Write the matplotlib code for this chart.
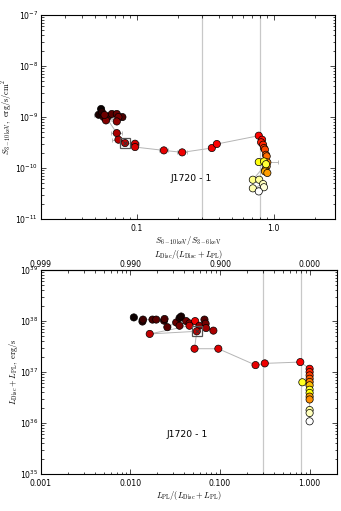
import numpy as np
import matplotlib
matplotlib.use("Agg")
import matplotlib.pyplot as plt
from matplotlib.ticker import FixedLocator, FuncFormatter, LogLocator, NullFormatter

# ---------------- top panel data (hardness-intensity) ----------------
hr_top = [0.0550, 0.0528, 0.0558, 0.0574, 0.0616, 0.0659, 0.0716, 0.0787, 0.0736, 0.0597,
          0.0716, 0.0583, 0.0716, 0.0736, 0.0823, 0.0973, 0.0973, 0.158, 0.215, 0.354,
          0.385, 0.779, 0.824, 0.810, 0.838, 0.850, 0.864, 0.879, 0.890, 0.900,
          0.890, 0.870, 0.864, 0.900, 0.779, 0.850, 0.880, 0.705, 0.785, 0.838,
          0.705, 0.850, 0.779]
flux_top = [1.44e-9, 1.11e-9, 1.25e-9, 1.0e-9, 1.02e-9, 1.15e-9, 1.15e-9, 1.0e-9, 1.0e-9, 0.86e-9,
            0.82e-9, 1.1e-9, 4.85e-10, 3.6e-10, 3.09e-10, 3.0e-10, 2.58e-10, 2.22e-10, 2.03e-10, 2.47e-10,
            2.96e-10, 4.31e-10, 3.6e-10, 3.2e-10, 2.87e-10, 2.47e-10, 2.3e-10, 1.82e-10, 1.7e-10, 1.29e-10,
            1.08e-10, 0.92e-10, 0.86e-10, 0.80e-10, 1.31e-10, 1.35e-10, 1.19e-10, 5.9e-11, 5.9e-11, 4.85e-11,
            4.0e-11, 4.2e-11, 3.48e-11]
hr_err_top = [0, 0.004, 0, 0, 0, 0, 0, 0.004, 0, 0,
              0, 0, 0.007, 0.008, 0, 0.006, 0, 0.012, 0.018, 0,
              0, 0, 0, 0, 0, 0, 0, 0, 0, 0.17,
              0, 0, 0, 0, 0, 0, 0, 0, 0, 0.04,
              0, 0, 0]
time_top = [0.00, 0.03, 0.05, 0.08, 0.10, 0.12, 0.14, 0.10, 0.16, 0.18,
            0.20, 0.15, 0.24, 0.26, 0.28, 0.30, 0.31, 0.33, 0.34, 0.35,
            0.36, 0.37, 0.38, 0.40, 0.42, 0.45, 0.47, 0.50, 0.53, 0.56,
            0.58, 0.60, 0.62, 0.60, 0.76, 0.78, 0.80, 0.88, 0.90, 0.93,
            0.92, 0.96, 1.00]
special_top = 14  # index of highlighted observation

# ---------------- bottom panel data (disc fraction - luminosity) ----------------
plfrac_bot = [0.0109, 0.0136, 0.0138, 0.0176, 0.0194, 0.0237, 0.0240, 0.0258, 0.0324, 0.0353,
              0.0368, 0.0353, 0.0419, 0.0456, 0.0527, 0.0589, 0.0670, 0.0690, 0.0698, 0.0843,
              0.0456, 0.0164, 0.0550, 0.0519, 0.0957, 0.249, 0.316, 0.787,
              1.0, 1.0, 1.0, 1.0, 1.0, 1.0, 0.83, 1.0, 1.0, 1.0, 1.0, 1.0, 1.0, 1.0]
lum_bot = [1.18e38, 0.98e38, 1.07e38, 1.07e38, 1.07e38, 1.02e38, 1.10e38, 0.76e38, 0.94e38, 1.15e38,
           1.23e38, 0.81e38, 1.00e38, 0.90e38, 1.00e38, 0.81e38, 1.07e38, 0.89e38, 0.73e38, 0.65e38,
           0.81e38, 0.56e38, 0.63e38, 2.87e37, 2.87e37, 1.37e37, 1.48e37, 1.57e37,
           1.16e37, 1.0e37, 8.6e36, 7.4e36, 6.4e36, 5.5e36, 6.3e36, 4.5e36, 3.9e36, 3.3e36, 2.9e36,
           1.8e36, 1.57e36, 1.08e36]
time_bot = [0.00, 0.05, 0.08, 0.10, 0.12, 0.08, 0.10, 0.12, 0.14, 0.04,
            0.02, 0.16, 0.15, 0.18, 0.34, 0.20, 0.12, 0.16, 0.22, 0.24,
            0.28, 0.27, 0.28, 0.31, 0.32, 0.33, 0.34, 0.36,
            0.38, 0.42, 0.46, 0.50, 0.55, 0.65, 0.78, 0.78, 0.75, 0.60, 0.58,
            0.90, 0.93, 1.00]
special_bot = 22

vlines = [0.3, 0.8]

plt.rcParams['font.family'] = ['DejaVu Sans']
cmap = plt.get_cmap('hot')

fig = plt.figure(figsize=(3.41, 5.11), dpi=100)
ax1 = fig.add_axes([0.120, 0.5714, 0.862, 0.399])
ax2 = fig.add_axes([0.120, 0.0724, 0.867, 0.399])

lab_kw = dict(fontsize=6.0, math_fontfamily='cm')
tick_fs = 5.6


def style(ax):
    ax.tick_params(which='both', direction='in', labelsize=tick_fs, width=0.5)
    ax.tick_params(which='major', length=3.5)
    ax.tick_params(which='minor', length=1.8)
    ax.tick_params(axis='y', pad=2)
    for s in ax.spines.values():
        s.set_linewidth(0.8)


# ---- top panel ----
ax1.set_xscale('log')
ax1.set_yscale('log')
for v in vlines:
    ax1.axvline(v, color='#c8c8c8', lw=0.9, zorder=0)
ax1.plot(hr_top, flux_top, '-', color='#b5b5b5', lw=0.7, zorder=1)
ax1.errorbar(hr_top, flux_top, xerr=hr_err_top, fmt='none', ecolor='#b0b0b0',
             elinewidth=0.6, capsize=1.2, capthick=0.6, zorder=1)
ax1.scatter(hr_top, flux_top, c=time_top, cmap=cmap, vmin=0, vmax=1, s=27,
            edgecolors='black', linewidths=0.5, zorder=3)
ax1.plot(hr_top[special_top], flux_top[special_top], 's', mfc='none', mec='#555555',
         ms=7.5, mew=0.9, zorder=4)
ax1.plot(hr_top[special_top], flux_top[special_top], 'x', color='#333333',
         ms=3.5, mew=0.7, zorder=5)
ax1.set_xlim(0.02, 2.8)
ax1.set_ylim(1e-11, 1e-7)
ax1.xaxis.set_major_locator(FixedLocator([0.1, 1.0]))
ax1.xaxis.set_major_formatter(FuncFormatter(lambda x, p: '%.1f' % x))
ax1.xaxis.set_minor_locator(LogLocator(base=10, subs=np.arange(2, 10)))
ax1.xaxis.set_minor_formatter(NullFormatter())
ax1.yaxis.set_minor_locator(LogLocator(base=10, subs=np.arange(2, 10), numticks=20))
ax1.yaxis.set_minor_formatter(NullFormatter())
ax1.tick_params(which='both', top=True, right=True)
style(ax1)
ax1.set_xlabel(r'$S_{6-10\,{\rm keV}}/S_{3-6\,{\rm keV}}$', labelpad=1, **lab_kw)
ax1.set_ylabel(r'$S_{3-10\,{\rm keV}},\ {\rm erg/s/cm^2}$', labelpad=0, **lab_kw)
ax1.text(0.25, 10**-10.2, 'J1720 - 1', ha='center', va='center', fontsize=6.7)

# ---- bottom panel ----
ax2.set_xscale('log')
ax2.set_yscale('log')
for v in vlines:
    ax2.axvline(v, color='#c8c8c8', lw=0.9, zorder=0)
ax2.plot(plfrac_bot, lum_bot, '-', color='#b5b5b5', lw=0.7, zorder=1)
ax2.scatter(plfrac_bot, lum_bot, c=time_bot, cmap=cmap, vmin=0, vmax=1, s=27,
            edgecolors='black', linewidths=0.5, zorder=3)
ax2.plot(plfrac_bot[special_bot], lum_bot[special_bot], 's', mfc='none', mec='#555555',
         ms=7.5, mew=0.9, zorder=4)
ax2.plot(plfrac_bot[special_bot], lum_bot[special_bot], 'x', color='#333333',
         ms=3.5, mew=0.7, zorder=5)
ax2.set_xlim(0.001, 2.0)
ax2.set_ylim(1e35, 1e39)
xt = [0.001, 0.01, 0.1, 1.0]
ax2.xaxis.set_major_locator(FixedLocator(xt))
ax2.xaxis.set_major_formatter(FuncFormatter(lambda x, p: '%.3f' % x))
ax2.xaxis.set_minor_locator(LogLocator(base=10, subs=np.arange(2, 10)))
ax2.xaxis.set_minor_formatter(NullFormatter())
ax2.yaxis.set_minor_locator(LogLocator(base=10, subs=np.arange(2, 10), numticks=20))
ax2.yaxis.set_minor_formatter(NullFormatter())
ax2.tick_params(which='both', top=False, right=True)
style(ax2)
sec = ax2.secondary_xaxis('top')
sec.xaxis.set_major_locator(FixedLocator(xt))
sec.xaxis.set_major_formatter(FuncFormatter(lambda x, p: '%.3f' % (1 - x)))
sec.xaxis.set_minor_locator(LogLocator(base=10, subs=np.arange(2, 10)))
sec.xaxis.set_minor_formatter(NullFormatter())
sec.tick_params(which='both', direction='in', labelsize=tick_fs, width=0.5, pad=1)
sec.tick_params(which='major', length=3.5)
sec.tick_params(which='minor', length=1.8)
sec.set_xlabel(r'$L_{\rm Disc}/(L_{\rm Disc}+L_{\rm PL})$', labelpad=2, **lab_kw)
ax2.set_xlabel(r'$L_{\rm PL}/(L_{\rm Disc}+L_{\rm PL})$', labelpad=1, **lab_kw)
ax2.set_ylabel(r'$L_{\rm Disc}+L_{\rm PL},\ {\rm erg/s}$', labelpad=0, **lab_kw)
ax2.text(0.043, 10**35.78, 'J1720 - 1', ha='center', va='center', fontsize=6.7)

fig.savefig('out.png', dpi=100)
